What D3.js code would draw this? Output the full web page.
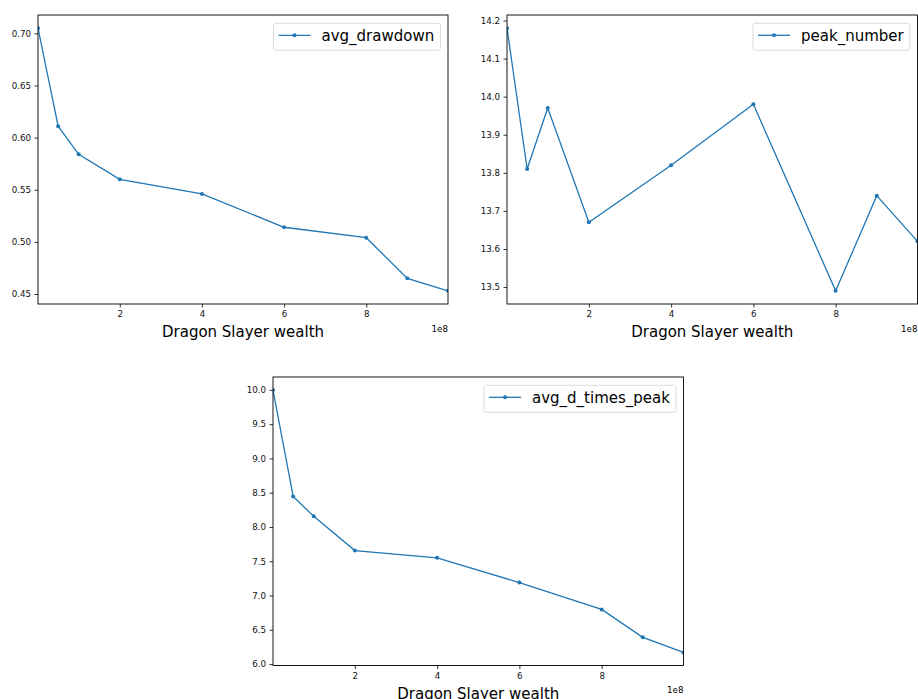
<!DOCTYPE html>
<html>
<meta charset="utf-8">
<script src="https://d3js.org/d3.v7.min.js"></script>
<style>
  body { margin: 0; background: #fff; }
  text { font-family: "DejaVu Sans", sans-serif; }
</style>
<body>
<div id="chart"></div>
<script>
// dragon slayer wealth (x) and the three measured series
var wealth = [1e6, 5e7, 1e8, 2e8, 4e8, 6e8, 8e8, 9e8, 999e6];
var avgDrawdown = [0.705, 0.611, 0.584, 0.560, 0.546, 0.514, 0.504, 0.465, 0.453];
var peakNumber = [14.18, 13.81, 13.97, 13.67, 13.82, 13.98, 13.49, 13.74, 13.62];
var avgDTimesPeak = [9.997, 8.445, 8.155, 7.655, 7.550, 7.188, 6.797, 6.390, 6.170];

// tick labels
var xTicks = [2e8, 4e8, 6e8, 8e8];
var yTicks1 = [0.45, 0.50, 0.55, 0.60, 0.65, 0.70];
var yTicks2 = [13.5, 13.6, 13.7, 13.8, 13.9, 14.0, 14.1, 14.2];
var yTicks3 = [6.0, 6.5, 7.0, 7.5, 8.0, 8.5, 9.0, 9.5, 10.0];

var xLabel = "Dragon Slayer wealth";
var blue = "#1f77b4";

var svg = d3.select("#chart").append("svg")
    .attr("width", 918)
    .attr("height", 699);

var panels = [
  {name: "avg_drawdown", values: avgDrawdown, ticks: yTicks1, fmt: ".2f",
   left: 38, top: 15, right: 448, bottom: 304, legendW: 167},
  {name: "peak_number", values: peakNumber, ticks: yTicks2, fmt: ".1f",
   left: 507, top: 15, right: 917.5, bottom: 304, legendW: 157},
  {name: "avg_d_times_peak", values: avgDTimesPeak, ticks: yTicks3, fmt: ".1f",
   left: 273, top: 377, right: 683.5, bottom: 665.5, legendW: 192}
];

panels.forEach(function(p, i) {
  var w = p.right - p.left, h = p.bottom - p.top;
  var g = svg.append("g").attr("transform", "translate(" + p.left + "," + p.top + ")");

  var x = d3.scaleLinear().domain(d3.extent(wealth)).range([0, w]);
  var ext = d3.extent(p.values), pad = (ext[1] - ext[0]) * 0.05;
  var y = d3.scaleLinear().domain([ext[0] - pad, ext[1] + pad]).range([h, 0]);

  g.append("clipPath").attr("id", "clip" + i)
    .append("rect").attr("width", w).attr("height", h);

  // axes
  var xAxis = g.append("g")
      .attr("transform", "translate(0," + h + ")")
      .call(d3.axisBottom(x).tickValues(xTicks).tickSize(3.5).tickPadding(3.5)
        .tickFormat(function(d) { return d / 1e8; }));
  var yAxis = g.append("g")
      .call(d3.axisLeft(y).tickValues(p.ticks).tickSize(3.5).tickPadding(3.5)
        .tickFormat(d3.format(p.fmt)));
  [xAxis, yAxis].forEach(function(a) {
    a.select(".domain").remove();
    a.selectAll("line").attr("stroke", "#000").attr("stroke-width", 0.8);
    a.selectAll("text").attr("fill", "#111")
      .style("font-family", "'DejaVu Sans'").style("font-size", "8.7px");
  });

  // line and markers
  var pts = wealth.map(function(d, k) { return [d, p.values[k]]; });
  var line = d3.line()
    .x(function(d) { return x(d[0]); })
    .y(function(d) { return y(d[1]); });
  var plot = g.append("g").attr("clip-path", "url(#clip" + i + ")");
  plot.append("path").datum(pts)
    .attr("d", line).attr("fill", "none")
    .attr("stroke", blue).attr("stroke-width", 1.3);
  plot.selectAll("circle").data(pts).enter().append("circle")
    .attr("cx", function(d) { return x(d[0]); })
    .attr("cy", function(d) { return y(d[1]); })
    .attr("r", 2).attr("fill", blue);

  // frame
  g.append("rect").attr("width", w).attr("height", h)
    .attr("fill", "none").attr("stroke", "#000").attr("stroke-width", 0.9);

  // labels
  g.append("text")
    .attr("x", w / 2).attr("y", h + 33)
    .attr("text-anchor", "middle")
    .style("font-size", "15px")
    .text(xLabel);
  g.append("text")
    .attr("x", w).attr("y", h + 27.5)
    .attr("text-anchor", "end")
    .style("font-size", "8.7px")
    .text("1e8");

  // legend
  var lx = w - 7.5 - p.legendW, ly = 8.3;
  var lg = g.append("g").attr("transform", "translate(" + lx + "," + ly + ")");
  lg.append("rect")
    .attr("width", p.legendW).attr("height", 27).attr("rx", 2.5)
    .attr("fill", "#fff").attr("fill-opacity", 0.8)
    .attr("stroke", "#d6d6d6").attr("stroke-width", 0.9);
  lg.append("line")
    .attr("x1", 5).attr("x2", 37).attr("y1", 12).attr("y2", 12)
    .attr("stroke", blue).attr("stroke-width", 1.3);
  lg.append("circle").attr("cx", 21).attr("cy", 12).attr("r", 2).attr("fill", blue);
  lg.append("text")
    .attr("x", 48).attr("y", 17.5)
    .style("font-size", "15px")
    .text(p.name);
});
</script>
</body>
</html>
